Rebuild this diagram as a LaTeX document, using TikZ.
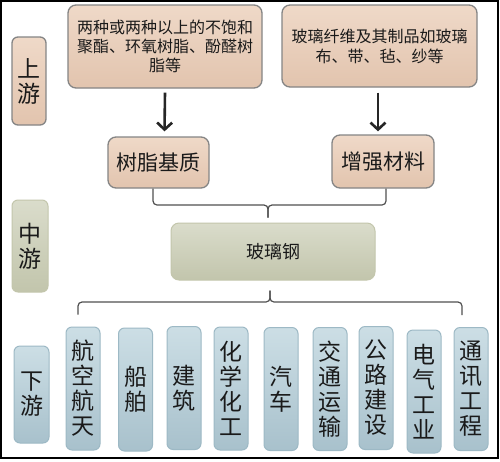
\documentclass[tikz,border=0pt]{standalone}
\usepackage{fontspec}
\setmainfont{Noto Sans CJK SC}
\usetikzlibrary{arrows.meta}
\definecolor{tantop}{HTML}{EFD9C8}
\definecolor{tanbot}{HTML}{E2C4AE}
\definecolor{tanline}{HTML}{858585}
\definecolor{bluetop}{HTML}{CCDEE5}
\definecolor{bluebot}{HTML}{A8C1CC}
\definecolor{blueline}{HTML}{9DB9C5}
\definecolor{greentop}{HTML}{DADCCB}
\definecolor{greenbot}{HTML}{C2C5AC}
\definecolor{greenline}{HTML}{C3C6AC}
\definecolor{txt}{HTML}{1A1A1A}
\definecolor{bracec}{HTML}{505050}
\tikzset{
  tanbox/.style={draw=tanline, line width=1.3pt, rounded corners=8pt, top color=tantop, bottom color=tanbot, text=txt, inner sep=0pt, align=center},
  bluebox/.style={draw=blueline, line width=1pt, rounded corners=6pt, top color=bluetop, bottom color=bluebot, text=txt, inner sep=0pt, align=center, minimum width=34pt, minimum height=123pt, font=\fontsize{23pt}{25pt}\selectfont},
  greenbox/.style={draw=greenline, line width=1pt, rounded corners=8pt, top color=greentop, bottom color=greenbot, text=txt, inner sep=0pt, align=center},
  vtext/.style={font=\fontsize{23pt}{25pt}\selectfont},
  bigarrow/.style={line width=2.6pt, draw=black!85, -{Straight Barb[length=7pt,width=15pt]}},
  bracestyle/.style={draw=bracec, line width=1.2pt, rounded corners=4pt}
}
\begin{document}
\begin{tikzpicture}[x=1pt,y=-1pt]
\useasboundingbox (0,0) rectangle (500,461);
\fill[white] (0,0) rectangle (500,461);
\draw[black, line width=2pt] (1,1) rectangle (498,458);

% side labels
\node[tanbox, vtext, minimum width=34pt, minimum height=88pt, rounded corners=6pt] (up) at (29,81) {上\\游};
\node[greenbox, vtext, minimum width=36pt, minimum height=92pt, rounded corners=6pt] (mid) at (30,246) {中\\游};
\node[bluebox, minimum width=35pt, minimum height=97pt] (down) at (31.5,394.5) {下\\游};

% upstream boxes
\node[tanbox, minimum width=194pt, minimum height=83pt, font=\fontsize{16pt}{19pt}\selectfont] (raw1) at (165,46.5) {两种或两种以上的不饱和\\聚酯、环氧树脂、酚醛树\\脂等};
\node[tanbox, minimum width=195pt, minimum height=82pt, font=\fontsize{16pt}{20pt}\selectfont] (raw2) at (379.5,46) {玻璃纤维及其制品如玻璃\\布、带、毡、纱等};

\node[tanbox, minimum width=101pt, minimum height=51pt, font=\fontsize{21pt}{24pt}\selectfont] (resin) at (158.5,162.5) {树脂基质};
\node[tanbox, minimum width=102pt, minimum height=53pt, font=\fontsize{21pt}{24pt}\selectfont] (reinf) at (383,161.5) {增强材料};

\draw[bigarrow] ([yshift=-4pt]raw1.south) -- ([xshift=6pt,yshift=5pt]resin.north);
\draw[bigarrow] ([xshift=-1.5pt,yshift=-5pt]raw2.south) -- ([xshift=-5pt,yshift=3pt]reinf.north);

% midstream
\node[greenbox, minimum width=204pt, minimum height=57pt, font=\fontsize{18pt}{22pt}\selectfont] (frp) at (273,251.5) {玻璃钢};

\coordinate (tb) at ([xshift=-5pt,yshift=5pt]frp.north);
\draw[bracestyle] ([xshift=-5.5pt]resin.south) -- (153,205) -- (268,205) -- (tb);
\draw[bracestyle] ([xshift=3pt]reinf.south) -- (386,205) -- (268,205) -- (tb);

% downstream boxes
\node[bluebox] (d1) at (83,388.5) {航\\空\\航\\天};
\node[bluebox] (d2) at (135.5,389.5) {船\\舶};
\node[bluebox] (d3) at (184,388) {建\\筑};
\node[bluebox] (d4) at (231,388.5) {化\\学\\化\\工};
\node[bluebox] (d5) at (281,389) {汽\\车};
\node[bluebox] (d6) at (330,389) {交\\通\\运\\输};
\node[bluebox] (d7) at (376,388) {公\\路\\建\\设};
\node[bluebox] (d8) at (424,391.5) {电\\气\\工\\业};
\node[bluebox] (d9) at (471,389) {通\\讯\\工\\程};

\coordinate (bt) at ([xshift=-3pt,yshift=-10pt]frp.south);
\coordinate (bl) at ([xshift=-5pt,yshift=12pt]d1.north);
\coordinate (br) at ([xshift=-9pt,yshift=12pt]d9.north);
\draw[bracestyle] (bt) -- (270,302) -- (78,302) -- (bl);
\draw[bracestyle] (bt) -- (270,302) -- (462,302) -- (br);
\end{tikzpicture}
\end{document}
